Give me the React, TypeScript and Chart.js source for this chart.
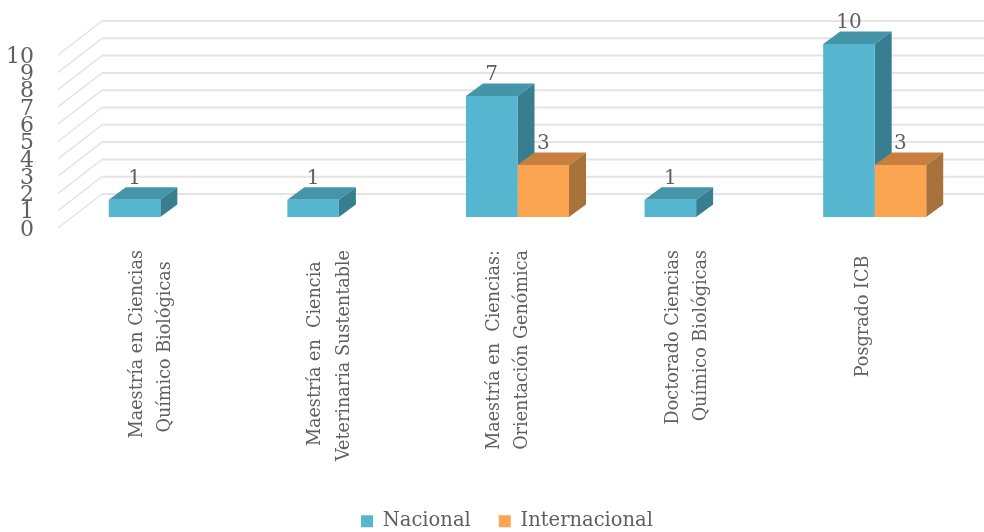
import React, { useEffect, useRef } from "react";
import { Chart, registerables } from "chart.js";

Chart.register(...registerables);

const categories: string[][] = [
  ["Maestría en Ciencias", "Químico Biológicas"],
  ["Maestría en  Ciencia", "Veterinaria Sustentable"],
  ["Maestría en  Ciencias:", "Orientación Genómica"],
  ["Doctorado Ciencias", "Químico Biológicas"],
  ["", "Posgrado ICB"],
];
const nacional: (number | null)[] = [1, 1, 7, 1, 10];
const internacional: (number | null)[] = [null, null, 3, null, 3];
const yTicks: number[] = [0, 1, 2, 3, 4, 5, 6, 7, 8, 9, 10];

const SERIF = "'DejaVu Serif'";
const TEXT = "#5f5f5f";
const GRID = "#e4e4e4";
const FACES = [
  { front: "#57b6cf", top: "#4595a9", side: "#377f90" },
  { front: "#fba553", top: "#c67f3f", side: "#a9723a" },
];
const DEPTH_X = 17;
const DEPTH_Y = 12.5;
const WALL_X = 44;
const WALL_Y = 34;
const WALL_RIGHT = 984;

const centerLines = (lines: string[], font: string): string[] => {
  const ctx = document.createElement("canvas").getContext("2d")!;
  ctx.font = font;
  const widths = lines.map((l) => ctx.measureText(l).width);
  const max = Math.max(...widths, lines[0] ? 0 : widths[1] + 10);
  const space = ctx.measureText("\u00a0").width;
  return lines.map((l, i) => (l ? l + "\u00a0".repeat(Math.round((max - widths[i]) / 2 / space)) : l));
};

const threeD = {
  id: "threeD",
  beforeDatasetsDraw(chart: any) {
    const { ctx, chartArea } = chart;
    const y = chart.scales.y;
    ctx.save();
    ctx.strokeStyle = GRID;
    yTicks.forEach((v) => {
      const py = y.getPixelForValue(v);
      ctx.lineWidth = 1.5;
      ctx.beginPath();
      ctx.moveTo(chartArea.left - 13, py);
      ctx.lineTo(chartArea.left - 13 + WALL_X, py - WALL_Y);
      ctx.stroke();
      ctx.lineWidth = 2;
      ctx.beginPath();
      ctx.moveTo(chartArea.left - 13 + WALL_X, py - WALL_Y);
      ctx.lineTo(WALL_RIGHT, py - WALL_Y);
      ctx.stroke();
    });
    chart.data.datasets.forEach((ds: any, d: number) => {
      chart.getDatasetMeta(d).data.forEach((bar: any, i: number) => {
        if (ds.data[i] == null) return;
        const p = bar.getProps(["x", "y", "base", "width"], true);
        const l = p.x - p.width / 2;
        const r = p.x + p.width / 2;
        ctx.fillStyle = FACES[d].top;
        ctx.beginPath();
        ctx.moveTo(l, p.y);
        ctx.lineTo(l + DEPTH_X, p.y - DEPTH_Y);
        ctx.lineTo(r + DEPTH_X, p.y - DEPTH_Y);
        ctx.lineTo(r, p.y);
        ctx.closePath();
        ctx.fill();
        ctx.fillStyle = FACES[d].side;
        ctx.beginPath();
        ctx.moveTo(r, p.y);
        ctx.lineTo(r + DEPTH_X, p.y - DEPTH_Y);
        ctx.lineTo(r + DEPTH_X, p.base - DEPTH_Y);
        ctx.lineTo(r, p.base);
        ctx.closePath();
        ctx.fill();
      });
    });
    ctx.restore();
  },
  afterDatasetsDraw(chart: any) {
    const { ctx } = chart;
    ctx.save();
    ctx.fillStyle = TEXT;
    ctx.font = `20px ${SERIF}`;
    ctx.textAlign = "center";
    ctx.textBaseline = "middle";
    chart.data.datasets.forEach((ds: any, d: number) => {
      chart.getDatasetMeta(d).data.forEach((bar: any, i: number) => {
        if (ds.data[i] == null) return;
        const p = bar.getProps(["x", "y"], true);
        ctx.fillText(String(ds.data[i]), p.x, p.y - 21);
      });
    });
    ctx.restore();
  },
};

export default function App() {
  const ref = useRef<HTMLCanvasElement>(null);
  useEffect(() => {
    const xFont = `17.6px ${SERIF}`;
    const chart = new Chart(ref.current!, {
      type: "bar",
      data: {
        labels: categories,
        datasets: [
          { label: "Nacional", data: nacional, backgroundColor: FACES[0].front, yAxisID: "bars" },
          { label: "Internacional", data: internacional, backgroundColor: FACES[1].front, yAxisID: "bars" },
        ],
      },
      options: {
        animation: false,
        responsive: false,
        layout: { padding: { top: 55, left: 0, right: -30, bottom: -9 } },
        datasets: { bar: { categoryPercentage: 0.577, barPercentage: 1, clip: false as any } },
        scales: {
          x: {
            grid: { display: false },
            border: { display: false },
            afterFit: (s: any) => { s.height = 255.5; },
            ticks: {
              minRotation: 90,
              maxRotation: 90,
              autoSkip: false,
              padding: 14,
              labelOffset: -23,
              color: TEXT,
              font: (c: any) => ({
                family: "DejaVu Serif",
                size: 17.6,
                lineHeight: c.index === 4 ? 0.65 : 1.6,
              }),
              callback(this: any, _v: any, i: number) {
                return centerLines(categories[i], xFont);
              },
            },
          },
          y: {
            min: 0,
            max: 10,
            grid: { display: false },
            border: { display: false },
            afterFit: (s: any) => { s.width = 71; },
            ticks: {
              stepSize: 1,
              padding: 29,
              labelOffset: 2,
              autoSkip: false,
              color: TEXT,
              font: { family: "DejaVu Serif", size: 22 },
            },
          },
          bars: {
            position: "right",
            min: -0.636,
            max: 9.364,
            grid: { display: false },
            border: { display: false },
            ticks: { display: false },
            afterFit: (s: any) => { s.width = 50; },
          },
        },
        plugins: {
          legend: {
            position: "bottom",
            labels: {
              boxWidth: 12,
              boxHeight: 12,
              padding: 28,
              color: TEXT,
              font: { family: "DejaVu Serif", size: 19.5 },
            },
          },
          tooltip: { enabled: false },
        },
      },
      plugins: [threeD],
    } as any);
    return () => chart.destroy();
  }, []);
  return (
    <div style={{ position: "absolute", left: 0, top: 0, width: 984, height: 532, background: "#fff" }}>
      <canvas ref={ref} width={984} height={532} style={{ display: "block" }} />
    </div>
  );
}
